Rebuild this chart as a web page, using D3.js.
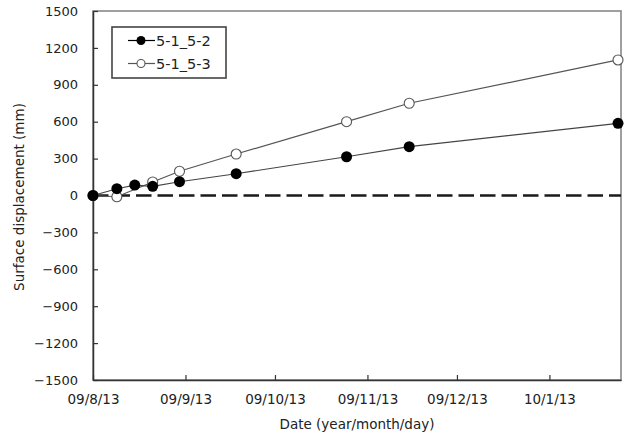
<!DOCTYPE html>
<html>
<head>
<meta charset="utf-8">
<script src="https://cdn.jsdelivr.net/npm/d3@7"></script>
<style>
  html, body { margin: 0; padding: 0; background: #fff; }
  svg text { font-family: "DejaVu Sans", sans-serif; fill: #222; }
</style>
</head>
<body>
<svg id="chart" width="627" height="438"></svg>
<script>
// Survey dates (year-month-day)
const dates52 = ["2009-08-13", "2009-08-21", "2009-08-27", "2009-09-02", "2009-09-11",
                 "2009-09-30", "2009-11-06", "2009-11-27", "2010-02-05"];
const disp52  = [0, 55, 85, 75, 112, 177, 315, 397, 587];

const dates53 = ["2009-08-13", "2009-08-21", "2009-09-02", "2009-09-11",
                 "2009-09-30", "2009-11-06", "2009-11-27", "2010-02-05"];
const disp53  = [0, -10, 110, 197, 337, 600, 750, 1102];

const seriesNames = ["5-1_5-2", "5-1_5-3"];
const xTickDates = ["2009-08-13", "2009-09-13", "2009-10-13", "2009-11-13", "2009-12-13", "2010-01-13"];
const yTicks = [-1500, -1200, -900, -600, -300, 0, 300, 600, 900, 1200, 1500];
const xDomain = ["2009-08-13", "2010-02-06"];
const yDomain = [-1500, 1500];

const parse = d3.utcParse("%Y-%m-%d");
const fmt = d3.utcFormat("%y/%-m/%-d");

const svg = d3.select("#chart");
const L = 93, R = 621, T = 11, B = 380;

const x = d3.scaleUtc().domain(xDomain.map(parse)).range([L, R]);
const y = d3.scaleLinear().domain(yDomain).range([B, T]);

// frame
svg.append("rect")
  .attr("x", L).attr("y", T).attr("width", R - L).attr("height", B - T)
  .attr("fill", "none").attr("stroke", "#888").attr("stroke-width", 1.6);

// axes with inward ticks
const xAxis = d3.axisBottom(x)
  .tickValues(xTickDates.map(parse))
  .tickFormat(fmt)
  .tickSizeInner(-5).tickSizeOuter(0).tickPadding(14);
const gx = svg.append("g").attr("transform", `translate(0,${B})`).call(xAxis);
gx.select(".domain").attr("stroke", "#333").attr("stroke-width", 1.5);
gx.selectAll(".tick line").attr("stroke", "#333").attr("stroke-width", 1.2);
gx.selectAll(".tick text").attr("font-size", 13.5).attr("font-family", "DejaVu Sans").attr("fill", "#222");

const yAxis = d3.axisLeft(y)
  .tickValues(yTicks)
  .tickFormat(d => d < 0 ? "\u2212" + Math.abs(d) : String(d))
  .tickSizeInner(-5).tickSizeOuter(0).tickPadding(15);
const gy = svg.append("g").attr("transform", `translate(${L},0)`).call(yAxis);
gy.select(".domain").attr("stroke", "#333").attr("stroke-width", 1.5);
gy.selectAll(".tick line").attr("stroke", "#333").attr("stroke-width", 1.2);
gy.selectAll(".tick text").attr("font-size", 13).attr("font-family", "DejaVu Sans").attr("fill", "#222");

// zero reference line
svg.append("line")
  .attr("x1", L).attr("x2", R).attr("y1", y(0)).attr("y2", y(0))
  .attr("stroke", "#1a1a1a").attr("stroke-width", 2.5)
  .attr("stroke-dasharray", "15.5,6");

const s52 = dates52.map((d, i) => ({ date: parse(d), v: disp52[i] }));
const s53 = dates53.map((d, i) => ({ date: parse(d), v: disp53[i] }));

const line = d3.line().x(d => x(d.date)).y(d => y(d.v));

svg.append("path").datum(s53).attr("d", line)
  .attr("fill", "none").attr("stroke", "#555").attr("stroke-width", 1.2);
svg.append("path").datum(s52).attr("d", line)
  .attr("fill", "none").attr("stroke", "#444").attr("stroke-width", 1.2);

svg.append("g").selectAll("circle").data(s53).join("circle")
  .attr("cx", d => x(d.date)).attr("cy", d => y(d.v)).attr("r", 5)
  .attr("fill", "#fff").attr("stroke", "#555").attr("stroke-width", 1.1);
svg.append("g").selectAll("circle").data(s52).join("circle")
  .attr("cx", d => x(d.date)).attr("cy", d => y(d.v)).attr("r", 5.5)
  .attr("fill", "#000");

// axis titles
svg.append("text")
  .attr("x", 357).attr("y", 429)
  .attr("text-anchor", "middle").attr("font-size", 13.5)
  .text("Date (year/month/day)");
svg.append("text")
  .attr("transform", "translate(24,197) rotate(-90)")
  .attr("text-anchor", "middle").attr("font-size", 13.5)
  .text("Surface displacement (mm)");

// legend
const lg = svg.append("g");
lg.append("rect")
  .attr("x", 112).attr("y", 27).attr("width", 114).attr("height", 51)
  .attr("fill", "#fff").attr("stroke", "#444").attr("stroke-width", 1.6);
const rows = [
  { name: seriesNames[0], filled: true, yy: 40.5 },
  { name: seriesNames[1], filled: false, yy: 63.5 }
];
rows.forEach(r => {
  lg.append("line").attr("x1", 128).attr("x2", 155).attr("y1", r.yy).attr("y2", r.yy)
    .attr("stroke", r.filled ? "#000" : "#555").attr("stroke-width", 1.2);
  lg.append("circle").attr("cx", 141).attr("cy", r.yy).attr("r", r.filled ? 4.5 : 4)
    .attr("fill", r.filled ? "#000" : "#fff")
    .attr("stroke", r.filled ? "none" : "#555").attr("stroke-width", 1.1);
  lg.append("text").attr("x", 156).attr("y", r.yy + 5).attr("font-size", 14.5).text(r.name);
});
</script>
</body>
</html>
